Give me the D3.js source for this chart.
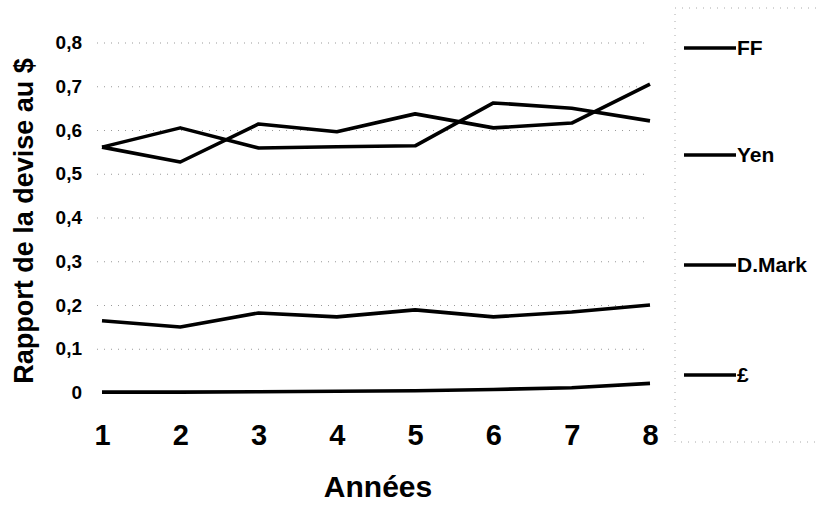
<!DOCTYPE html>
<html>
<head>
<meta charset="utf-8">
<script src="https://cdn.jsdelivr.net/npm/d3@7"></script>
<style>
    body { margin: 0; background: #fff; }
    text { font-family: "Liberation Sans", Arial, sans-serif; font-weight: bold; fill: #000; }
    .grid line { stroke: #999; stroke-width: 1; stroke-dasharray: 1, 6; }
    .line { fill: none; stroke: #000; stroke-width: 3.6; stroke-linejoin: round; }
</style>
</head>
<body>
<div id="chart"></div>
<script>
// years on the x axis
var years = [1, 2, 3, 4, 5, 6, 7, 8];

// series values
var ff = [0.562, 0.606, 0.560, 0.563, 0.565, 0.663, 0.651, 0.622];
var yen = [0.562, 0.528, 0.615, 0.597, 0.638, 0.606, 0.617, 0.706];
var dmark = [0.165, 0.151, 0.183, 0.174, 0.190, 0.174, 0.185, 0.201];
var livre = [0.002, 0.002, 0.003, 0.004, 0.005, 0.008, 0.012, 0.022];

var seriesNames = ["FF", "Yen", "D.Mark", "£"];
var seriesValues = [ff, yen, dmark, livre];

var yTicks = [0, 0.1, 0.2, 0.3, 0.4, 0.5, 0.6, 0.7, 0.8];
var yTickLabels = ["0", "0,1", "0,2", "0,3", "0,4", "0,5", "0,6", "0,7", "0,8"];

var width = 816, height = 507;

var svg = d3.select("#chart").append("svg")
    .attr("width", width)
    .attr("height", height);

// set the ranges
var x = d3.scaleLinear().domain([1, 8]).range([102, 650]);
var y = d3.scaleLinear().domain([0, 0.8]).range([393, 43]);

// dotted gridlines
svg.append("g")
    .attr("class", "grid")
    .selectAll("line")
    .data(yTicks.slice(1))
    .enter().append("line")
    .attr("x1", 97)
    .attr("x2", 648)
    .attr("y1", function (d) { return y(d); })
    .attr("y2", function (d) { return y(d); });

// y axis labels (no axis line)
var yAxis = d3.axisLeft(y)
    .tickValues(yTicks)
    .tickSize(0)
    .tickPadding(0)
    .tickFormat(function (d, i) { return yTickLabels[i]; });

svg.append("g")
    .attr("transform", "translate(82,0)")
    .call(yAxis)
    .call(function (g) { g.select(".domain").remove(); })
    .selectAll("text")
    .style("font-size", "19px")
    .style("font-family", "'Liberation Sans', Arial, sans-serif")
    .style("font-weight", "bold")
    .attr("fill", "#000")
    .attr("dy", "0.3em");

// x axis labels
var xAxis = d3.axisBottom(x)
    .tickValues(years)
    .tickSize(0)
    .tickPadding(0)
    .tickFormat(d3.format("d"));

svg.append("g")
    .attr("transform", "translate(0,422)")
    .call(xAxis)
    .call(function (g) { g.select(".domain").remove(); })
    .selectAll("text")
    .style("font-size", "29px")
    .style("font-family", "'Liberation Sans', Arial, sans-serif")
    .style("font-weight", "bold")
    .attr("fill", "#000")
    .attr("dy", "0.78em");

// define the line
var valueline = d3.line()
    .x(function (d, i) { return x(years[i]); })
    .y(function (d) { return y(d); });

svg.selectAll(".line")
    .data(seriesValues)
    .enter().append("path")
    .attr("class", "line")
    .attr("d", valueline);

// axis titles
svg.append("text")
    .attr("transform", "translate(33,221) rotate(-90)")
    .attr("text-anchor", "middle")
    .style("font-size", "27px")
    .text("Rapport de la devise au $");

svg.append("text")
    .attr("x", 378)
    .attr("y", 497)
    .attr("text-anchor", "middle")
    .style("font-size", "30px")
    .text("Années");

// legend box with dotted border
svg.append("path")
    .attr("d", "M830,8 H675 V442 H830")
    .attr("fill", "none")
    .attr("stroke", "#aaa")
    .attr("stroke-width", 1)
    .attr("stroke-dasharray", "1,6");

var legendY = [48, 155, 265, 375];
var legend = svg.selectAll(".legend")
    .data(seriesNames)
    .enter().append("g")
    .attr("class", "legend")
    .attr("transform", function (d, i) { return "translate(0," + legendY[i] + ")"; });

legend.append("line")
    .attr("x1", 684)
    .attr("x2", 736)
    .attr("stroke", "#000")
    .attr("stroke-width", 3.4);

legend.append("text")
    .attr("x", 737)
    .attr("dy", "0.35em")
    .style("font-size", "21px")
    .text(function (d) { return d; });
</script>
</body>
</html>
